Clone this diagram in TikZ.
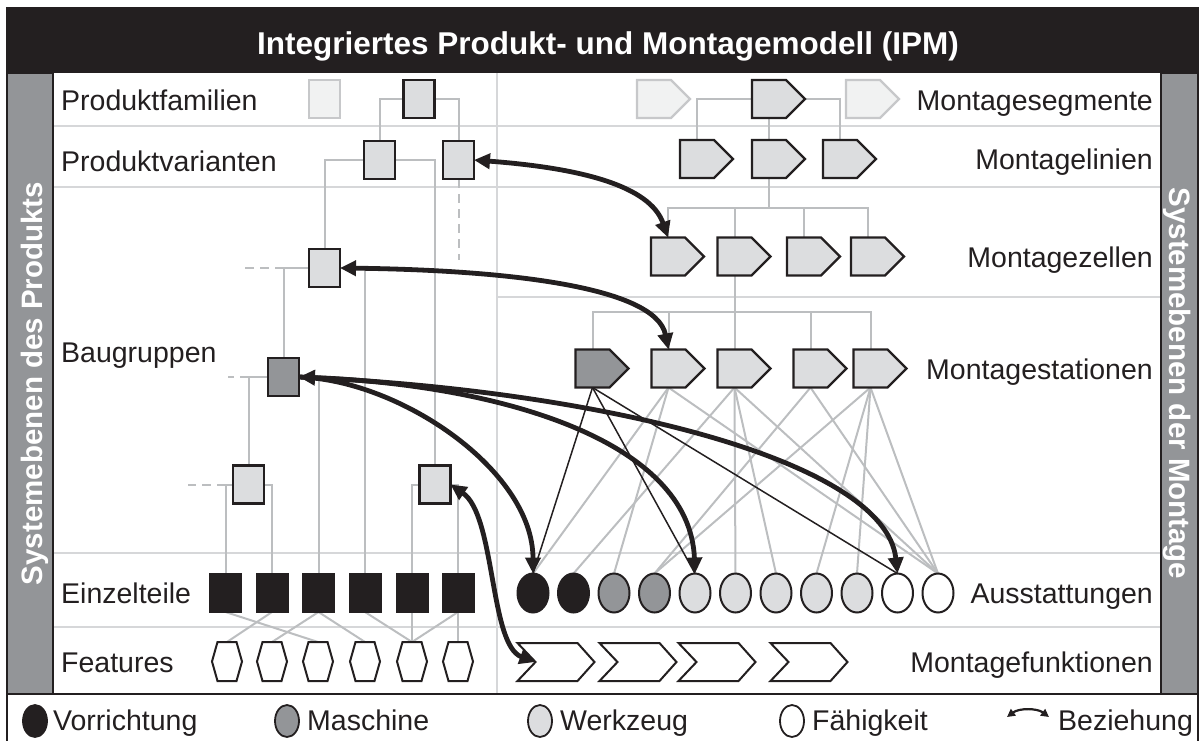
\documentclass[tikz,border=0pt]{standalone}
\usepackage{fontspec}
\setmainfont{Liberation Sans}
\usetikzlibrary{arrows.meta,shapes.geometric,backgrounds}

\definecolor{ink}{HTML}{231F20}
\definecolor{bargray}{HTML}{939598}
\definecolor{shapefill}{HTML}{DCDDDF}
\definecolor{fadefill}{HTML}{F1F2F2}
\definecolor{fadeline}{HTML}{C7C8CA}
\definecolor{linkgray}{HTML}{BCBEC0}
\definecolor{rulegray}{HTML}{D6D7D9}

% pentagon (assembly system element): core node + outline with tip
\newcommand\pentnode[3]{%
  \node[pentcore] (#1) at (#2) {};
  \draw[#3] (#1.south west) -- (#1.north west) -- (#1.north east)
     -- ([xshift=19pt]#1.east) -- (#1.south east) -- cycle;}
% chevron (assembly function)
\newcommand\chevnode[2]{%
  \node[chevcore] (#1) at (#2) {};
  \draw[chevron] (#1.north west) -- (#1.north east) -- ([xshift=17pt]#1.east)
     -- (#1.south east) -- (#1.south west) -- ([xshift=18pt]#1.west) -- cycle;}
% hexagon (feature)
\newcommand\hexnode[2]{%
  \node[hexcore] (#1) at (#2) {};
  \draw[hexline] (#1.north west) -- (#1.north east) -- ([xshift=5.5pt]#1.east)
     -- (#1.south east) -- (#1.south west) -- ([xshift=-5.5pt]#1.west) -- cycle;}

\begin{document}
\begin{tikzpicture}[x=1pt,y=-1pt,
  lab/.style={font=\fontsize{28.5}{30}\selectfont, text=ink, inner sep=0pt},
  titletext/.style={font=\fontsize{31.5}{34}\selectfont\bfseries, text=white, inner sep=0pt, anchor=base},
  bartext/.style={font=\fontsize{29.5}{32}\selectfont\bfseries, text=white, inner sep=0pt, anchor=base},
  sidebar/.style={fill=bargray, draw=ink, line width=2.4pt},
  framerule/.style={draw=ink, line width=2.6pt},
  rowrule/.style={draw=rulegray, line width=2pt},
  tree/.style={draw=linkgray, line width=2pt},
  treedash/.style={draw=linkgray, line width=2pt, dash pattern=on 9pt off 6pt},
  thinlink/.style={draw=ink, line width=1.5pt},
  sqbase/.style={minimum width=31pt, minimum height=38pt, inner sep=0pt, outer sep=0pt, line width=2.2pt},
  lightbox/.style={sqbase, draw=ink, fill=shapefill},
  darkbox/.style={sqbase, draw=ink, fill=bargray},
  fadebox/.style={sqbase, draw=fadeline, fill=fadefill},
  partbox/.style={minimum width=32pt, minimum height=39pt, inner sep=0pt, outer sep=0pt, draw=ink, fill=ink, line width=1pt},
  pentcore/.style={minimum width=34pt, minimum height=38pt, inner sep=0pt, outer sep=0pt},
  chevcore/.style={minimum width=60pt, minimum height=38pt, inner sep=0pt, outer sep=0pt},
  hexcore/.style={minimum width=19pt, minimum height=39pt, inner sep=0pt, outer sep=0pt},
  pent/.style={draw=ink, fill=shapefill, line width=2.2pt, line join=miter},
  darkpent/.style={draw=ink, fill=bargray, line width=2.2pt},
  fadepent/.style={draw=fadeline, fill=fadefill, line width=2.2pt},
  chevron/.style={draw=ink, fill=white, line width=2pt},
  hexline/.style={draw=ink, fill=white, line width=2pt},
  toolnode/.style={ellipse, draw=ink, line width=2pt, minimum width=31pt, minimum height=39pt, inner sep=0pt, outer sep=0pt},
  legtool/.style={ellipse, draw=ink, line width=1.8pt, minimum width=24pt, minimum height=32pt, inner sep=0pt},
  rel/.style={draw=ink, line width=4.8pt, arrows={Triangle[length=16pt,width=15pt]-Triangle[length=16pt,width=15pt]}},
  relend/.style={draw=ink, line width=4.8pt, arrows={-Triangle[length=16pt,width=15pt]}},
  legrel/.style={draw=ink, line width=2.2pt, arrows={Triangle[length=8pt,width=8pt]-Triangle[length=8pt,width=8pt]}}
]
\useasboundingbox (0,0) rectangle (1203,740);
\clip (0,0) rectangle (1203,740);

% ---- frame, title bar, side bars ----
\fill[ink] (7,8) rectangle (1198,73);
\node[titletext] (title) at (608,54) {Integriertes Produkt- und Montagemodell (IPM)};
\draw[sidebar] (7,73) rectangle (53,694);
\draw[sidebar] (1161,73) rectangle (1198,694);
\node[bartext, rotate=90] (prodaxis) at (42,383.5) {Systemebenen des Produkts};
\node[bartext, rotate=-90] (montaxis) at (1169,383.5) {Systemebenen der Montage};
\draw[framerule] (7,745) -- (7,8) -- (1198,8) -- (1198,745);
\draw[framerule] (7,694) -- (1198,694);

% ---- level labels ----
\node[lab, anchor=base west] (lpf) at (61,110) {Produktfamilien};
\node[lab, anchor=base west] (lpv) at (61,171) {Produktvarianten};
\node[lab, anchor=base west] (lbg) at (61,362) {Baugruppen};
\node[lab, anchor=base west] (let) at (61,603) {Einzelteile};
\node[lab, anchor=base west] (lft) at (61,672) {Features};
\node[lab, anchor=base east] (lms) at (1153,110) {Montagesegmente};
\node[lab, anchor=base east] (lml) at (1153,169) {Montagelinien};
\node[lab, anchor=base east] (lmz) at (1153,267) {Montagezellen};
\node[lab, anchor=base east] (lmst) at (1153,379) {Montagestationen};
\node[lab, anchor=base east] (lau) at (1153,603) {Ausstattungen};
\node[lab, anchor=base east] (lmf) at (1153,672) {Montagefunktionen};

% ---- product structure ----
\node[fadebox] (pf0) at (324.5,99) {};
\node[lightbox] (pf) at (419,99) {};
\node[lightbox] (pv1) at (379.5,160) {};
\node[lightbox] (pv2) at (458.5,160) {};
\node[lightbox] (bg1) at (324.5,268) {};
\node[darkbox] (bg2) at (283.5,377) {};
\node[lightbox] (bg3) at (248.5,484.5) {};
\node[lightbox] (bg4) at (435,484.5) {};
\foreach \i/\x in {1/225.5,2/272,3/318.5,4/365,5/412,6/458}
  {\node[partbox] (et\i) at (\x,592.5) {};}
\foreach \i/\x in {1/227,2/272,3/318,4/365,5/412,6/458}
  {\hexnode{ft\i}{\x,661.5}}

% ---- assembly structure ----
\pentnode{seg0}{654,99}{fadepent}
\pentnode{seg}{769,99}{pent}
\pentnode{seg2}{863,99}{fadepent}
\pentnode{ml1}{697,159}{pent}
\pentnode{ml2}{769,159}{pent}
\pentnode{ml3}{840,159}{pent}
\foreach \i/\x in {1/668,2/734.5,3/804,4/868}
  {\pentnode{c\i}{\x,256.5}{pent}}
\pentnode{s1}{592.5,368.5}{darkpent}
\foreach \i/\x in {2/668.5,3/734.5,4/810.5,5/870.5}
  {\pentnode{s\i}{\x,368.5}{pent}}
\foreach \i/\f in {1/ink,2/ink,3/bargray,4/bargray,5/shapefill,6/shapefill,7/shapefill,8/shapefill,9/shapefill,10/white,11/white}
  {\node[toolnode, fill=\f] (a\i) at ({533+40.5*(\i-1)},593) {};}
\chevnode{mf1}{547.5,662}
\chevnode{mf2}{629.5,662}
\chevnode{mf3}{708.5,662}
\chevnode{mf4}{800.5,662}
\coordinate (mf1notch) at ([xshift=18pt]mf1.west);

% ---- grid rules and structural links ----
\begin{scope}[on background layer]
  \draw[rowrule] (53,126) -- (1161,126);
  \draw[rowrule] (53,187) -- (1161,187);
  \draw[rowrule] (497,297) -- (1161,297);
  \draw[rowrule] (53,553) -- (1161,553);
  \draw[rowrule] (53,627) -- (1161,627);
  \draw[rowrule] (497,73) -- (497,694);

  \draw[tree] (pv1.north) |- (pf.west);
  \draw[tree] (pv2.north) |- (pf.east);
  \draw[tree] (bg1.north) |- (pv1.west);
  \draw[tree] (bg4.north) |- (pv1.east);
  \draw[treedash] (pv2.south) -- ++(0,81);
  \draw[tree] (bg2.north) |- (bg1.west);
  \draw[tree] (et4.north) |- (bg1.east);
  \draw[treedash] (bg2.north |- bg1.west) -- ++(-41,0);
  \draw[tree] (bg3.north) |- (bg2.west);
  \draw[tree] (et3.north) |- (bg2.east);
  \draw[treedash] (bg3.north |- bg2.west) -- ++(-21,0);
  \draw[tree] (et1.north) |- (bg3.west);
  \draw[tree] (et2.north) |- (bg3.east);
  \draw[treedash] (et1.north |- bg3.west) -- ++(-38,0);
  \draw[tree] (et5.north) |- (bg4.west);
  \draw[tree] (et6.north) |- (bg4.east);
  \foreach \p/\f in {1/3,2/1,3/2,3/4,4/5,5/5,6/5,6/6}
    {\draw[tree] (et\p.south) -- (ft\f.north);}

  \draw[tree] (ml1.north) |- (seg.west);
  \draw[tree] (ml3.north) |- (seg.east);
  \draw[tree] (seg.south) -- (ml2.north);
  \coordinate (cbus) at (769,208);
  \draw[tree] (ml2.south) -- (cbus);
  \draw[tree] (c1.north) |- (cbus);
  \draw[tree] (c4.north) |- (cbus);
  \draw[tree] (c2.north) -- (c2.north |- cbus);
  \draw[tree] (c3.north) -- (c3.north |- cbus);
  \coordinate (sbus) at (734.5,312);
  \draw[tree] (c2.south) -- (s3.north);
  \draw[tree] (s1.north) |- (sbus);
  \draw[tree] (s5.north) |- (sbus);
  \draw[tree] (s2.north) -- (s2.north |- sbus);
  \draw[tree] (s4.north) -- (s4.north |- sbus);
  \foreach \s/\a in {2/1,2/3,2/11,3/2,3/6,3/7,3/11,4/4,4/11,5/4,5/8,5/9,5/11}
    {\draw[tree] (s\s.south) -- (a\a.north);}
\end{scope}

% station with its equipment
\foreach \a in {1,5,10}
  {\draw[thinlink] (s1.south) -- (a\a.north);}

% ---- relations between product and assembly ----
\draw[rel] (pv2.east) .. controls +(106,8) and +(-18,-52) .. (c1.north);
\draw[rel] (bg1.east) .. controls +(160,2) and +(-13,-64) .. (s2.north);
\draw[relend] (bg2.east) .. controls +(101,3) and +(0,-103) .. (a1.north);
\draw[rel] (bg2.east) .. controls +(201,8) and +(-5,-133) .. (a5.north);
\draw[relend] (bg2.east) .. controls +(301,13) and +(-12.5,-113.5) .. (a10.north);
\draw[rel] (bg4.east) .. controls +(45,31) and +(-46,-17) .. (mf1notch);

% ---- legend ----
\node[legtool, fill=ink] (lgv) at (35,721) {};
\node[lab, anchor=base west] (lgvt) at (53,730) {Vorrichtung};
\node[legtool, fill=bargray] (lgm) at (287,721) {};
\node[lab, anchor=base west] (lgmt) at (307,730) {Maschine};
\node[legtool, fill=shapefill] (lgw) at (540,721) {};
\node[lab, anchor=base west] (lgwt) at (560,730) {Werkzeug};
\node[legtool, fill=white] (lgf) at (792,721) {};
\node[lab, anchor=base west] (lgft) at (812,730) {Fähigkeit};
\coordinate (lgb1) at (1007,717);
\coordinate (lgb2) at (1049,717);
\draw[legrel] (lgb1) .. controls +(12,-9) and +(-12,-9) .. (lgb2);
\node[lab, anchor=base west] (lgbt) at (1058,730) {Beziehung};
\end{tikzpicture}
\end{document}
